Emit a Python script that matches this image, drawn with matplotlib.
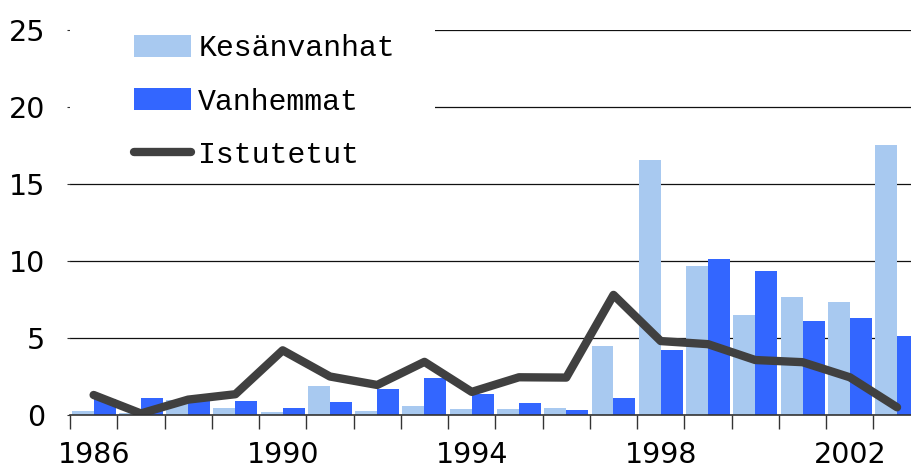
import numpy as np
import matplotlib
matplotlib.use('Agg')
import matplotlib.pyplot as plt
from matplotlib.patches import Rectangle

years = list(range(1986, 2004))
kesanvanhat = [0.26, 0.1, 1.0, 0.47, 0.2, 1.88, 0.26, 0.58, 0.39, 0.39, 0.45, 4.48,
               16.56, 9.68, 6.49, 7.66, 7.34, 17.53]
vanhemmat = [1.04, 1.1, 1.0, 0.9, 0.45, 0.85, 1.69, 2.4, 1.36, 0.78, 0.32, 1.1,
             4.22, 10.13, 9.35, 6.1, 6.3, 5.13]
istutetut = [1.3, 0.1, 1.0, 1.35, 4.2, 2.5, 1.95, 3.45, 1.5, 2.45, 2.43, 7.8,
             4.8, 4.6, 3.57, 3.43, 2.45, 0.5]
label_years = [1986, 1990, 1994, 1998, 2002]

c_light = '#a8c9f0'
c_dark = '#3366ff'
c_line = '#404040'

fig = plt.figure(figsize=(9.11, 4.70), dpi=100)
ax = fig.add_axes([70 / 911, 55 / 470, 1 - 70 / 911, 385 / 470])

x = np.arange(len(years))
w = 0.465
b1 = ax.bar(x, kesanvanhat, width=-w, align='edge', color=c_light, label='Kesänvanhat', zorder=2)
b2 = ax.bar(x, vanhemmat, width=w, align='edge', color=c_dark, label='Vanhemmat', zorder=2)
l1, = ax.plot(x, istutetut, color=c_line, lw=6, solid_capstyle='round', solid_joinstyle='round',
              label='Istutetut', zorder=3)

ax.set_ylim(0, 25)
ax.set_xlim(-0.5, 17.295)
ax.set_yticks([0, 5, 10, 15, 20, 25])
ax.set_yticklabels(['0', '5', '10', '15', '20', '25'], fontsize=20.5)
ax.yaxis.grid(True, color='#111111', lw=0.9, zorder=0)
ax.set_axisbelow(True)

ax.set_xticks(x - 0.5)
ax.set_xticklabels([])
ax.set_xticks([years.index(y) for y in label_years], minor=True)
ax.set_xticklabels([str(y) for y in label_years], minor=True, fontsize=20.5)
ax.tick_params(axis='x', which='major', length=10, width=1, color='#333333', direction='out')
ax.tick_params(axis='x', which='minor', length=0, pad=18.5)
ax.tick_params(axis='y', length=2, width=0.8, pad=16, color='#333333')

for s in ['top', 'right', 'left']:
    ax.spines[s].set_visible(False)
ax.spines['bottom'].set_color('#333333')
ax.spines['bottom'].set_linewidth(1.2)
ax.spines['bottom'].set_zorder(4)

# white box behind the legend hides the grid lines there
ax.add_patch(Rectangle((0, 0.66), (435 - 70) / 841, 0.36, transform=ax.transAxes,
                       facecolor='white', edgecolor='none', zorder=1, clip_on=False))
leg = ax.legend([b1, b2, l1], ['Kesänvanhat', 'Vanhemmat', 'Istutetut'],
                loc='upper left', bbox_to_anchor=(52 / 841, 1.02), frameon=False,
                prop={'family': 'Liberation Mono', 'size': 21.5}, handlelength=1.9,
                handleheight=0.75, handletextpad=0.25, labelspacing=0.85, borderaxespad=0)
leg.set_zorder(5)

fig.savefig('out.png', dpi=100)
